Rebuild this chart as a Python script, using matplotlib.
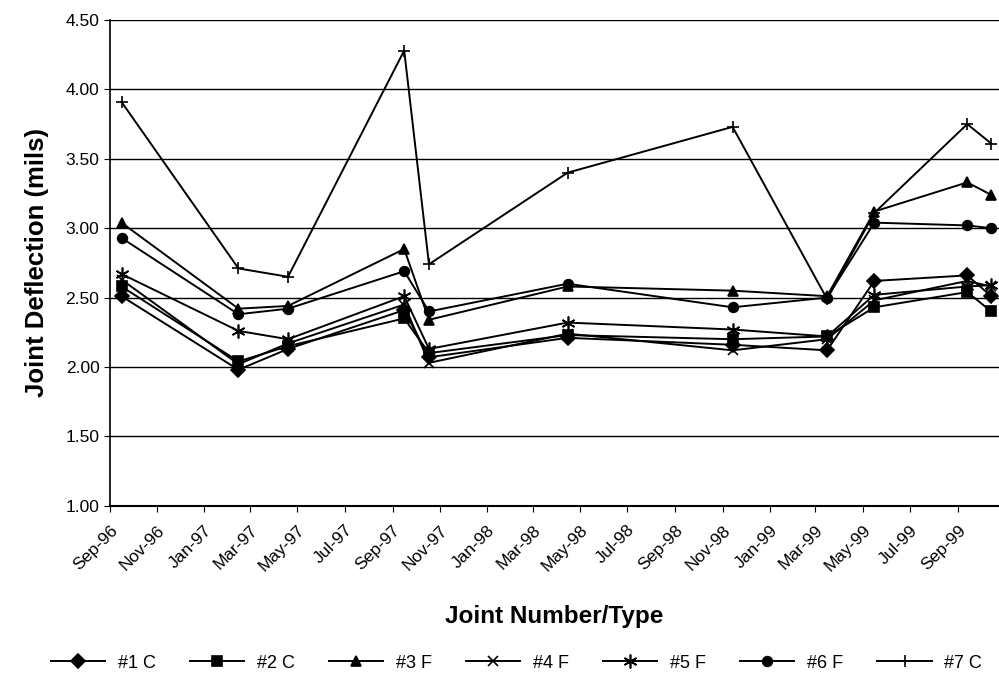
import datetime as dt
import matplotlib
matplotlib.use("Agg")
import matplotlib.pyplot as plt
import matplotlib.dates as mdates

plt.rcParams['font.family'] = ['Liberation Sans', 'DejaVu Sans']

# survey dates
dates = [dt.date(1996, 9, 16), dt.date(1997, 2, 14), dt.date(1997, 4, 19),
         dt.date(1997, 9, 16), dt.date(1997, 10, 18), dt.date(1998, 4, 15),
         dt.date(1998, 11, 14), dt.date(1999, 3, 16), dt.date(1999, 5, 16),
         dt.date(1999, 9, 13), dt.date(1999, 10, 14)]

j1c = [2.51, 1.98, 2.13, 2.41, 2.07, 2.21, 2.16, 2.12, 2.62, 2.66, 2.51]
j2c = [2.58, 2.04, 2.15, 2.35, 2.10, 2.23, 2.20, 2.22, 2.43, 2.54, 2.40]
j3f = [3.04, 2.42, 2.44, 2.85, 2.34, 2.58, 2.55, 2.51, 3.12, 3.33, 3.24]
j4f = [2.63, 2.02, 2.17, 2.45, 2.03, 2.24, 2.12, 2.20, 2.48, 2.62, 2.58]
j5f = [2.67, 2.26, 2.20, 2.51, 2.13, 2.32, 2.27, 2.22, 2.52, 2.58, 2.59]
j6f = [2.93, 2.38, 2.42, 2.69, 2.40, 2.60, 2.43, 2.50, 3.04, 3.02, 3.00]
j7c = [3.91, 2.71, 2.65, 4.28, 2.74, 3.40, 3.73, 2.49, 3.11, 3.75, 3.61]

# name, values, marker, marker size
series = [("#1 C", j1c, "D", 7), ("#2 C", j2c, "s", 7), ("#3 F", j3f, "^", 7),
          ("#4 F", j4f, "x", 7), ("#5 F", j5f, (6, 2, 0), 10),
          ("#6 F", j6f, "o", 7), ("#7 C", j7c, "+", 9)]

fig = plt.figure(figsize=(9.99, 6.9), dpi=100)
ax = fig.add_axes([0.110, 0.267, 0.890, 0.704])

for name, vals, mk, ms in series:
    ax.plot(dates, vals, color='black', lw=1.4, marker=mk, ms=ms,
            mew=1.2, label=name)

ax.set_ylim(1.0, 4.5)
ax.set_yticks([1.0, 1.5, 2.0, 2.5, 3.0, 3.5, 4.0, 4.5])
ax.yaxis.set_major_formatter(plt.FormatStrFormatter('%.2f'))
ax.grid(axis='y', color='black', lw=1.0)
ax.set_axisbelow(True)

ax.set_xlim(dt.date(1996, 9, 1), dt.date(1999, 10, 24))
ax.xaxis.set_major_locator(mdates.MonthLocator(bymonth=[1, 3, 5, 7, 9, 11]))
ax.xaxis.set_major_formatter(mdates.DateFormatter('%b-%y'))
for lab in ax.get_xticklabels():
    lab.set_rotation(45)
    lab.set_ha('right')
    lab.set_rotation_mode('anchor')

ax.tick_params(axis='both', labelsize=12.5, direction='out', length=4,
               color='black')
ax.tick_params(axis='x', pad=8)
ax.spines['right'].set_visible(False)
ax.spines['top'].set_visible(False)
ax.spines['left'].set_linewidth(1.2)
ax.spines['bottom'].set_linewidth(1.5)

ax.set_ylabel('Joint Deflection (mils)', fontsize=18.5, fontweight='bold',
              labelpad=12)
ax.set_xlabel('Joint Number/Type', fontsize=17.5, fontweight='bold',
              labelpad=22)

fig.legend(loc='center', bbox_to_anchor=(0.517, 0.039), ncol=7,
           frameon=False, fontsize=13, handlelength=3.0, handletextpad=0.7,
           columnspacing=1.9)

fig.savefig('out.png', dpi=100)
